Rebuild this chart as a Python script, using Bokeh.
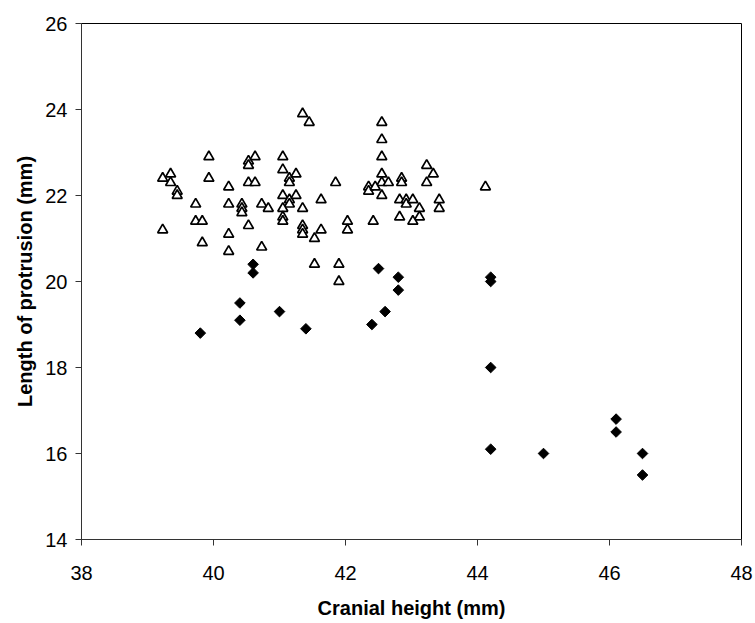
import math
from bokeh.plotting import figure
from bokeh.embed import file_html
from bokeh.resources import INLINE
from bokeh.models import Range1d, FixedTicker

# Open triangles
tri_x = [41.35, 41.45, 39.93, 40.53, 40.53, 40.63, 41.05, 39.35, 39.23, 39.35,
         39.93, 41.05, 41.15, 41.15, 41.25, 41.85, 40.23, 40.53, 40.63, 39.45,
         39.45, 39.73, 40.23, 40.43, 40.43, 40.43, 40.73, 40.83, 41.05, 41.15,
         41.15, 41.25, 41.35, 41.63, 41.05, 41.05, 41.05, 39.73, 39.83, 39.23,
         40.53, 41.35, 41.35, 41.35, 41.63, 41.53, 40.23, 39.83, 40.73, 40.23,
         41.53, 41.90, 41.90,
         42.55, 42.55, 42.55, 42.55, 42.55, 42.65, 42.35, 42.35, 42.45, 42.85,
         42.85, 42.55, 43.23, 43.33, 43.23, 44.12, 42.82, 42.92, 42.92, 43.02,
         43.12, 43.42, 43.42, 42.82, 43.12, 43.02, 42.42, 42.03, 42.03]
tri_y = [23.9, 23.7, 22.9, 22.8, 22.7, 22.9, 22.9, 22.5, 22.4, 22.3,
         22.4, 22.6, 22.4, 22.3, 22.5, 22.3, 22.2, 22.3, 22.3, 22.1,
         22.0, 21.8, 21.8, 21.8, 21.7, 21.6, 21.8, 21.7, 22.0, 21.9,
         21.8, 22.0, 21.7, 21.9, 21.7, 21.5, 21.4, 21.4, 21.4, 21.2,
         21.3, 21.3, 21.2, 21.1, 21.2, 21.0, 21.1, 20.9, 20.8, 20.7,
         20.4, 20.4, 20.0,
         23.7, 23.3, 22.9, 22.5, 22.3, 22.3, 22.2, 22.1, 22.2, 22.4,
         22.3, 22.0, 22.7, 22.5, 22.3, 22.2, 21.9, 21.9, 21.8, 21.9,
         21.7, 21.9, 21.7, 21.5, 21.5, 21.4, 21.4, 21.4, 21.2]

# Filled diamonds
dia_x = [39.8, 40.4, 40.4, 40.6, 40.6, 41.0, 41.4, 42.4, 42.5, 42.6, 42.8,
         42.8, 44.2, 44.2, 44.2, 44.2, 45.0, 46.1, 46.1, 46.5, 46.5]
dia_y = [18.8, 19.5, 19.1, 20.4, 20.2, 19.3, 18.9, 19.0, 20.3, 19.3, 20.1,
         19.8, 20.1, 20.0, 18.0, 16.1, 16.0, 16.8, 16.5, 16.0, 15.5]

x_ticks = [38, 40, 42, 44, 46, 48]
y_ticks = [14, 16, 18, 20, 22, 24, 26]

p = figure(width=755, height=623, output_backend="svg", toolbar_location=None,
           x_range=Range1d(38, 48), y_range=Range1d(14, 26),
           min_border_left=81, min_border_right=14, min_border_top=23,
           min_border_bottom=84)

p.scatter(tri_x, tri_y, marker="triangle", size=10, fill_color="white",
          line_color="black", line_width=1.7)
p.scatter(dia_x, dia_y, marker="square", size=7.5, angle=math.pi / 4,
          fill_color="black", line_color="black")

p.grid.visible = False
p.outline_line_color = "black"
p.outline_line_width = 1
p.background_fill_color = "white"
p.border_fill_color = "white"

for ax in (p.xaxis[0], p.yaxis[0]):
    ax.axis_line_color = "#333333"
    ax.major_tick_line_color = "#333333"
    ax.major_tick_out = 6
    ax.major_tick_in = 0
    ax.minor_tick_line_color = None
    ax.major_label_text_font = "Liberation Sans"
    ax.major_label_text_font_size = "20px"
    ax.major_label_text_color = "black"
    ax.axis_label_text_font = "Liberation Sans"
    ax.axis_label_text_font_size = "20px"
    ax.axis_label_text_font_style = "bold"
    ax.axis_label_text_color = "black"

p.xaxis.ticker = FixedTicker(ticks=x_ticks)
p.yaxis.ticker = FixedTicker(ticks=y_ticks)
p.xaxis.axis_label = "Cranial height (mm)"
p.yaxis.axis_label = "Length of protrusion (mm)"
p.xaxis.major_label_standoff = 20
p.xaxis.axis_label_standoff = 14
p.yaxis.major_label_standoff = 8
p.yaxis.axis_label_standoff = 6

open("out.html", "w").write(file_html(p, INLINE))
